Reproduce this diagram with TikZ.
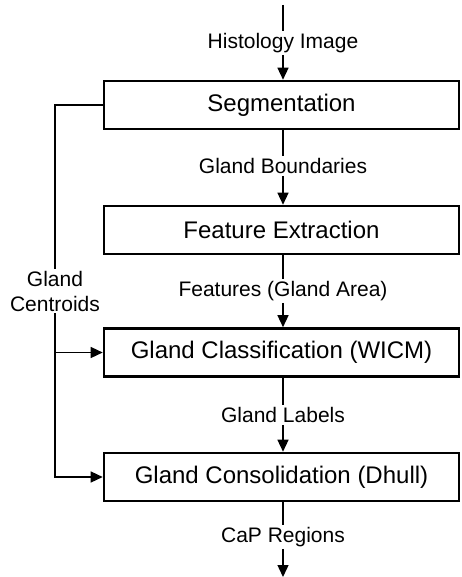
\documentclass[tikz,border=0pt]{standalone}
\usepackage{fontspec}
\setmainfont{Liberation Sans}
\usetikzlibrary{arrows.meta}

\begin{document}
\begin{tikzpicture}[x=1pt,y=-1pt,
		stage/.style={draw, line width=2.6pt, minimum width=355pt, minimum height=48pt, inner sep=0pt, font=\fontsize{24}{28}\selectfont},
		lbl/.style={fill=white, inner sep=2pt, align=center, font=\fontsize{21}{25}\selectfont},
		flow/.style={line width=1.4pt},
		tip/.style={-{Triangle[length=12pt,width=11pt]}}]
			\useasboundingbox (0,0) rectangle (461,577);

			% boxes
			\node[stage] (seg) at (281.5,105) {Segmentation} ;
			\node[stage] (feat) at (281.5,230) {Feature Extraction} ;
			\node[stage] (wicm) at (281.5,352.5) {Gland Classification (WICM)} ;
			\node[stage] (dhull) at (281.5,477) {Gland Consolidation (Dhull)} ;

			% arrow labels
			\coordinate (in) at (283,5) ;
			\coordinate (out) at (283,577) ;
			\node[lbl] (hist) at (283,43) {Histology Image} ;
			\node[lbl] (bound) at (283,166) {Gland Boundaries} ;
			\node[lbl] (area) at (283,291) {Features (Gland Area)} ;
			\node[lbl] (glab) at (283,415) {Gland Labels} ;
			\node[lbl] (cap) at (283,537) {CaP Regions} ;
			\node[lbl] (cent) at (55,291) {Gland\\Centroids} ;

			% main flow
			\draw [flow] (in) -- (hist) ;
			\draw [flow, tip] (hist) -- (seg.north -| hist) ;
			\draw [flow] (seg.south -| bound) -- (bound) ;
			\draw [flow, tip] (bound) -- (feat.north -| bound) ;
			\draw [flow] (feat.south -| area) -- (area) ;
			\draw [flow, tip] (area) -- (wicm.north -| area) ;
			\draw [flow] (wicm.south -| glab) -- (glab) ;
			\draw [flow, tip] (glab) -- (dhull.north -| glab) ;
			\draw [flow] (dhull.south -| cap) -- (cap) ;
			\draw [flow, tip] (cap) -- (out) ;

			% centroid branch
			\draw [flow] (seg.west) -| (cent) ;
			\draw [flow, tip] (cent) |- (dhull.west) ;
			\draw [flow, tip] (cent |- wicm.west) -- (wicm.west) ;
		\end{tikzpicture}
\end{document}
